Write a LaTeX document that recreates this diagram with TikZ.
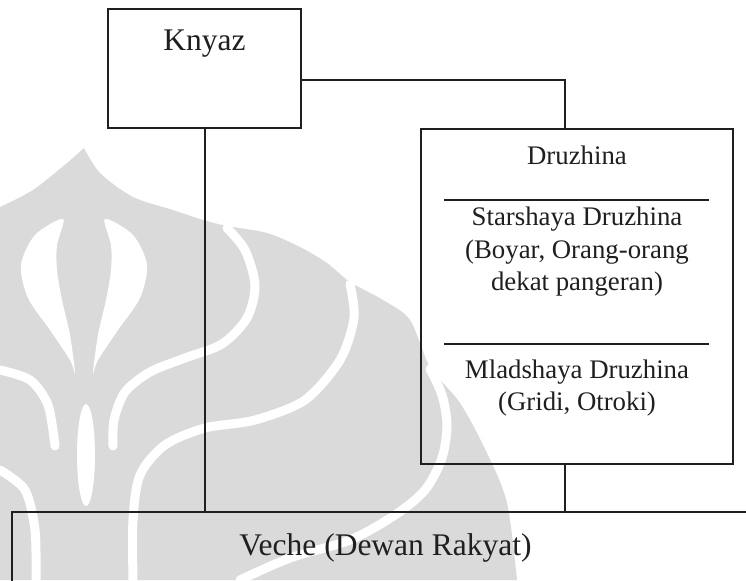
\documentclass[tikz,border=0pt]{standalone}
\usepackage{fontspec}
\setmainfont{Liberation Serif}
\definecolor{wmgray}{RGB}{218,218,218}
\begin{document}
\begin{tikzpicture}[x=0.5pt,y=-0.5pt,
  box/.style={draw=black!88,line width=1pt,inner sep=0pt,rectangle},
  line/.style={draw=black!88,line width=1pt},
  wmstripe/.style={draw=white,line width=4.5pt,line cap=round},
  bigtxt/.style={anchor=base,inner sep=0pt,font=\fontsize{15.75}{18}\selectfont,text=black!88},
  smalltxt/.style={anchor=base,inner sep=0pt,font=\fontsize{13.4}{16}\selectfont,text=black!88,align=center}]
\useasboundingbox (0,0) rectangle (746,580);
\clip (0,0) rectangle (746,580);
\fill[white] (0,0) rectangle (746,580);
% watermark (faint background logo)
\fill[wmgray] plot[smooth] coordinates {(0,207) (33,190) (67,163) (84,148)}
  -- plot[smooth] coordinates {(84,148) (100,173) (133,197) (173,210) (203,220) (227,226) (267,233) (300,247) (327,263) (350,282) (383,300) (410,320) (430,367) (460,403) (487,453) (507,503) (517,580)}
  -- (0,580) -- cycle;
\draw[wmstripe] plot[smooth] coordinates {(227,228) (245,250) (255,285) (247,318) (222,344) (185,358) (150,372) (125,392) (114,420) (113,446)};
\draw[wmstripe] plot[smooth] coordinates {(350,284) (354,318) (340,360) (305,400) (255,420) (205,428) (165,445) (140,475) (133,520) (133,580)};
\draw[wmstripe] plot[smooth] coordinates {(430,369) (442,395) (447,425) (442,458) (425,490) (395,515) (350,540) (290,558) (240,580)};
\draw[wmstripe] plot[smooth] coordinates {(0,370) (30,380) (48,405) (55,446)};
\draw[wmstripe] plot[smooth] coordinates {(0,470) (25,490) (35,530) (36,580)};
\fill[white] plot[smooth cycle] coordinates {(63,219) (35,235) (21,265) (28,298) (50,330) (70,360) (75,373) (70,335) (62,300) (57,270) (57,245)};
\fill[white] plot[smooth cycle] coordinates {(105,219) (133,235) (147,265) (140,298) (118,330) (98,360) (93,373) (98,335) (106,300) (111,270) (111,245)};
\fill[white] (86,455) ellipse [x radius=9, y radius=51];
% boxes
\node[box,minimum width=96.5pt,minimum height=59.5pt] (knyaz) at (204.5,68.5) {};
\node[box,minimum width=156pt,minimum height=167.5pt] (druzhina) at (577,296.5) {};
\node[box,minimum width=375pt,minimum height=55pt] (veche) at (387,567) {};
% texts
\node[bigtxt] (tknyaz) at (204.5,50) {Knyaz};
\node[smalltxt] (tdruz) at (577,164) {Druzhina};
\node[smalltxt] (tstar1) at (577,225) {Starshaya Druzhina};
\node[smalltxt] (tstar2) at (577,258) {(Boyar, Orang-orang};
\node[smalltxt] (tstar3) at (577,290) {dekat pangeran)};
\node[smalltxt] (tmlad1) at (577,378) {Mladshaya Druzhina};
\node[smalltxt] (tmlad2) at (577,410) {(Gridi, Otroki)};
\node[bigtxt] (tveche) at (385.5,555) {Veche (Dewan Rakyat)};
% dividers
\draw[line] (444,200) -- (709,200);
\draw[line] (444,344) -- (709,344);
% connectors
\coordinate (kd) at (565,80);
\draw[line] (knyaz.east |- kd) -| (druzhina.north -| kd);
\draw[line] (knyaz.south) -- (knyaz.south |- veche.north);
\draw[line] (druzhina.south -| kd) -- (veche.north -| kd);
\end{tikzpicture}
\end{document}
